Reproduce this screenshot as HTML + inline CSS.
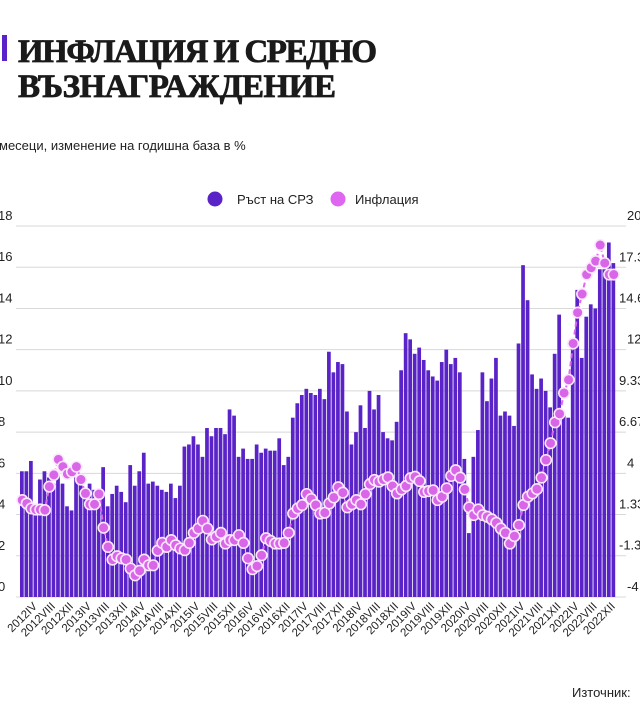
<!DOCTYPE html>
<html><head><meta charset="utf-8"><style>
body{margin:0;background:#fff;width:640px;height:714px;overflow:hidden;position:relative;font-family:"Liberation Sans","DejaVu Sans",sans-serif}
svg{position:absolute;left:0;top:0}
</style></head><body>
<svg id="c" width="640" height="714"></svg>
<script>
const wages=[6.1,6.1,6.6,4.3,5.7,6.1,5.8,5.5,5.9,5.5,4.4,4.2,5.8,5.7,5.3,5.5,5.2,4.5,6.3,4.4,5.0,5.4,5.1,4.6,6.4,5.4,6.1,7.0,5.5,5.6,5.4,5.2,5.1,5.5,4.8,5.4,7.3,7.4,7.8,7.4,6.8,8.2,7.8,8.2,8.2,7.9,9.1,8.8,6.8,7.2,6.7,6.7,7.4,7.0,7.2,7.1,7.1,7.7,6.4,6.8,8.7,9.4,9.8,10.1,9.9,9.8,10.1,9.6,11.9,10.9,11.4,11.3,9.0,7.4,8.0,9.3,8.2,10.0,9.1,9.8,8.0,7.7,7.6,8.5,11.0,12.8,12.5,11.8,12.1,11.5,11.0,10.7,10.5,11.4,12.0,11.3,11.6,10.9,6.7,3.1,6.8,8.1,10.9,9.5,10.6,11.6,8.8,9.0,8.8,8.3,12.3,16.1,14.4,10.8,10.1,10.6,10.0,9.2,11.8,13.7,8.9,8.7,12.3,14.9,11.6,13.6,14.2,14.0,15.9,15.9,17.2,16.2];
const inflation=[2.27,2.05,1.73,1.66,1.66,1.62,3.14,3.9,4.9,4.43,3.96,4.1,4.43,3.6,2.7,2.0,2.0,2.66,0.48,-0.76,-1.58,-1.36,-1.5,-1.58,-2.16,-2.6,-2.3,-1.58,-1.95,-1.95,-1.0,-0.5,-0.76,-0.32,-0.65,-0.86,-0.97,-0.5,0.15,0.43,0.93,0.43,-0.28,-0.1,0.15,-0.54,-0.32,-0.32,0.0,-0.5,-1.5,-2.2,-2.0,-1.3,-0.2,-0.37,-0.54,-0.54,-0.5,0.15,1.4,1.73,1.95,2.66,2.34,1.95,1.4,1.45,2.05,2.44,3.1,2.75,1.8,2.0,2.27,2.0,2.66,3.3,3.57,3.46,3.6,3.74,3.18,2.7,2.96,3.18,3.68,3.78,3.5,2.8,2.85,2.9,2.27,2.49,3.03,3.83,4.2,3.72,2.96,1.8,1.3,1.66,1.3,1.19,1.02,0.8,0.43,0.15,-0.54,-0.06,0.65,1.95,2.49,2.7,2.98,3.72,4.86,5.95,7.3,7.85,9.2,10.05,12.4,14.4,15.6,16.86,17.3,17.73,18.77,17.6,16.86,16.86];
const leftTicks=["0","2","4","6","8","10","12","14","16","18"];
const rightTicks=["-4","-1.33","1.33","4","6.67","9.33","12","14.67","17.33","20"];
const romans=["I","II","III","IV","V","VI","VII","VIII","IX","X","XI","XII"];
const startYear=2012;

const NS="http://www.w3.org/2000/svg";
const svg=document.getElementById('c');
function mk(t,a,p){const e=document.createElementNS(NS,t);for(const k in a)e.setAttribute(k,a[k]);(p||svg).appendChild(e);return e;}
const X0=20,X1=616,Y0=597,Y1=226;
const n=wages.length,bw=(X1-X0)/n;
const yL=v=>Y0-(v/18)*(Y0-Y1);
const yR=v=>Y0-((v+4)/24)*(Y0-Y1);
const xC=i=>X0+(i+0.5)*bw;

// title
const bar=mk('rect',{x:2,y:35,width:5,height:26,fill:'#5a23c8'});

[["ИНФЛАЦИЯ И СРЕДНО",62,359],["ВЪЗНАГРАЖДЕНИЕ",97,318]].forEach(l=>{
 const t=mk('text',{x:18,y:l[1],'font-family':'"Liberation Serif",serif','font-weight':'bold','font-size':33,fill:'#1a1a1a',stroke:'#1a1a1a','stroke-width':0.8,textLength:l[2],lengthAdjust:'spacing'});
 t.textContent=l[0];
 
});
const st=mk('text',{x:-1,y:150,'font-size':13,fill:'#222'});st.textContent="месеци, изменение на годишна база в %";


// legend
const lg=mk('g',{});
const l1=mk('circle',{cx:215,cy:199,r:7.5,fill:'#5a23c8'},lg);
const t1=mk('text',{x:237,y:204,'font-size':13,fill:'#222'},lg);t1.textContent="Ръст на СРЗ";
const l2=mk('circle',{cx:338,cy:199,r:7.5,fill:'#de66f0'},lg);
const t2=mk('text',{x:355,y:204,'font-size':13,fill:'#222'},lg);t2.textContent="Инфлация";

// grid & ticks
leftTicks.forEach(s=>{
 const y=yL(+s);
 const g=mk('line',{x1:X0-4,x2:626,y1:y,y2:y,stroke:'#d8d8d8','stroke-width':1});
 
 const t=mk('text',{x:-2,y:y-6,'font-size':13,fill:'#222'});t.textContent=s;
 
});
rightTicks.forEach(s=>{
 const y=yR(+s);
 const t=mk('text',{x:s.length>2?619:627,y:y-6,'font-size':13,fill:'#222'});
 t.textContent=s;
 
});

// bars
wages.forEach((v,i)=>{
 const r=mk('rect',{x:X0+i*bw,y:yL(v),width:bw-0.8,height:Y0-yL(v),fill:'#5a23c8'});
 
});

// line
const pts=inflation.map((v,i)=>xC(i).toFixed(1)+','+yR(v).toFixed(1)).join(' ');
const pl=mk('polyline',{points:pts,fill:'none',stroke:'#de66f0','stroke-width':2,'stroke-dasharray':'5,3'});

inflation.forEach((v,i)=>{
 const c=mk('circle',{cx:xC(i),cy:yR(v),r:5.3,fill:'#d966e8',stroke:'#fbe8fd','stroke-width':1.6});
 
});

// x labels
for(let i=3;i<n;i+=4){
 const yr=startYear+Math.floor(i/12),m=i%12;
 const x=xC(i)+2,y=607;
 const t=mk('text',{x:x,y:y,'font-size':11.5,fill:'#222','text-anchor':'end',transform:`rotate(-45 ${x} ${y})`});
 t.textContent=yr+romans[m];
 
}
const src=mk('text',{x:572,y:697,'font-size':13,fill:'#222'});src.textContent="Источник:".replace("Ис","Из");

</script>
</body></html>
